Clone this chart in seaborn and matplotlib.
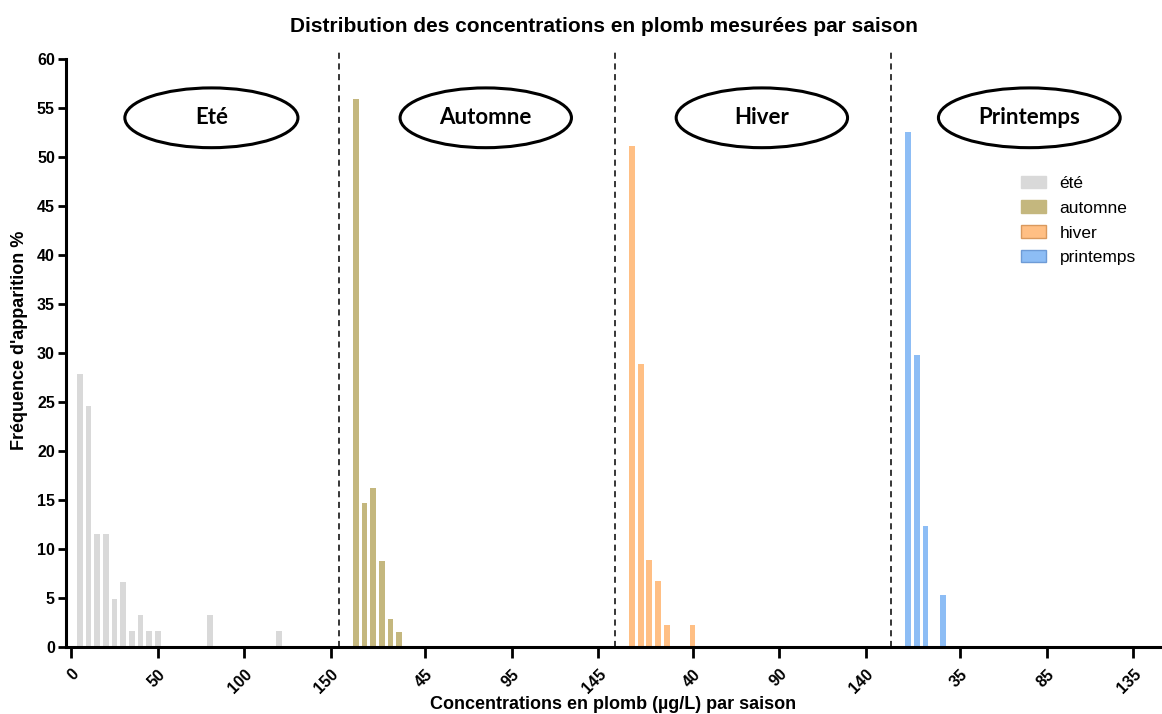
import matplotlib
matplotlib.use("Agg")
import matplotlib.pyplot as plt
from matplotlib.patches import Ellipse, Patch
import seaborn as sns
import pandas as pd

# ---- data ----
seasons = ["été", "automne", "hiver", "printemps"]
season_titles = ["Eté", "Automne", "Hiver", "Printemps"]
ete_x = [5, 10, 15, 20, 25, 30, 35, 40, 45, 50, 80, 120]
ete_y = [27.9, 24.6, 11.5, 11.5, 4.9, 6.6, 1.6, 3.3, 1.6, 1.6, 3.3, 1.6]
automne_x = [5, 10, 15, 20, 25, 30]
automne_y = [55.9, 14.7, 16.2, 8.8, 2.9, 1.5]
hiver_x = [5, 10, 15, 20, 25, 40]
hiver_y = [51.1, 28.9, 8.9, 6.7, 2.2, 2.2]
printemps_x = [5, 10, 15, 25]
printemps_y = [52.6, 29.8, 12.3, 5.3]
seg_ticks = [[0, 50, 100, 150], [45, 95, 145], [40, 90, 140], [35, 85, 135]]
colors = {"été": "#d9d9d9", "automne": "#c4b77e", "hiver": "#ffbf84", "printemps": "#8dbdf5"}
edges = {"été": "#d9d9d9", "automne": "#c4b77e", "hiver": "#d9995e", "printemps": "#6e9bd6"}

SEG = 159.5  # width of each axis segment (continuous units)

xs = [ete_x, automne_x, hiver_x, printemps_x]
ys = [ete_y, automne_y, hiver_y, printemps_y]
rows = []
for k, (s, xv, yv) in enumerate(zip(seasons, xs, ys)):
    for x, y in zip(xv, yv):
        rows.append({"pos": k * SEG + x, "freq": y, "saison": s})
df = pd.DataFrame(rows)

sns.set_style("white")
plt.rcParams["font.family"] = ["Liberation Sans", "DejaVu Sans"]
plt.rcParams["text.color"] = "black"
plt.rcParams["axes.labelcolor"] = "black"
plt.rcParams["xtick.color"] = "black"
plt.rcParams["ytick.color"] = "black"

fig = plt.figure(figsize=(11.62, 7.14), dpi=100)
ax = fig.add_axes([66 / 1162, 67 / 714, (1160 - 66) / 1162, (647 - 59) / 714])

sns.barplot(data=df, x="pos", y="freq", hue="saison", hue_order=seasons,
            palette=colors, native_scale=True, dodge=False, width=0.66,
            saturation=1, errorbar=None, linewidth=0, ax=ax, legend=False)

ax.set_xlim(-3, 629)
ax.set_ylim(0, 60)

# ticks
tpos, tlab = [], []
for k, tl in enumerate(seg_ticks):
    for t in tl:
        tpos.append(k * SEG + t)
        tlab.append(str(t))
ax.set_xticks(tpos)
ax.set_xticklabels(tlab, rotation=45, ha="right", rotation_mode="anchor",
                   fontsize=11.5, fontweight="bold")
ax.set_yticks(range(0, 61, 5))
ax.set_yticklabels([str(v) for v in range(0, 61, 5)], fontsize=11.5, fontweight="bold")
ax.tick_params(axis="both", bottom=True, left=True, direction="out", length=6,
               width=2, color="black", pad=2)
ax.tick_params(axis="x", length=8, pad=6)

for sp in ["top", "right"]:
    ax.spines[sp].set_visible(False)
for sp in ["left", "bottom"]:
    ax.spines[sp].set_linewidth(2.2)
    ax.spines[sp].set_color("black")

# segment separators
for k in range(1, 4):
    ax.axvline(k * SEG - 5, ymin=0, ymax=1.015, color="black", ls=(0, (4, 3)),
               lw=1.1, clip_on=False)

# season ellipses
centers = [81, 80 + SEG, 80 + 2 * SEG, 75 + 3 * SEG]
widths = [100, 99, 99, 105]
for c, w, t in zip(centers, widths, season_titles):
    ax.add_patch(Ellipse((c, 54), w, 6.1, fill=False, ec="black", lw=2.2, clip_on=False))
    ax.text(c, 54, t, ha="center", va="center", fontsize=16, fontweight="bold",
            family=["Lato", "DejaVu Sans"])

ax.set_xlabel("Concentrations en plomb (µg/L) par saison", fontsize=13, fontweight="bold")
ax.set_ylabel("Fréquence d'apparition %", fontsize=13, fontweight="bold")
ax.xaxis.set_label_coords(0.5, -0.083)
ax.yaxis.set_label_coords(-0.035, 0.522)

fig.text(0.52, 1 - 27 / 714, "Distribution des concentrations en plomb mesurées par saison",
         ha="center", va="center", fontsize=15, fontweight="bold")

handles = [Patch(facecolor=colors[s], edgecolor=edges[s], lw=1) for s in seasons]
ax.legend(handles, seasons, loc="upper left", bbox_to_anchor=(1005 / 1162, 1 - 160 / 714),
          bbox_transform=fig.transFigure, frameon=False, fontsize=12.5,
          handlelength=1.45, handleheight=0.7, labelspacing=0.56, handletextpad=0.8)

fig.savefig("out.png", dpi=100)
